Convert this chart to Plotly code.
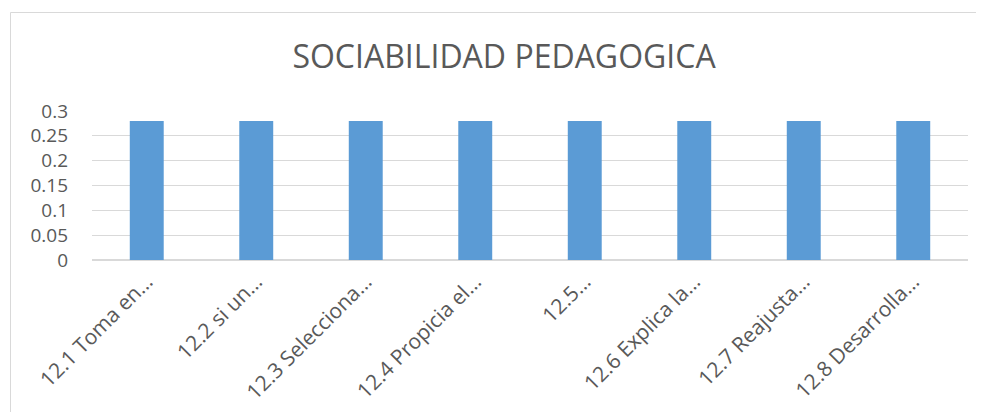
import plotly.graph_objects as go

categories = [
    "12.1 Toma en…",
    "12.2 si un…",
    "12.3 Selecciona…",
    "12.4 Propicia el…",
    "12.5…",
    "12.6 Explica la…",
    "12.7 Reajusta…",
    "12.8 Desarrolla…",
]
values = [0.28, 0.28, 0.28, 0.28, 0.28, 0.28, 0.28, 0.28]
y_ticks = [0, 0.05, 0.1, 0.15, 0.2, 0.25, 0.3]
y_tick_labels = ["0", "0.05", "0.1", "0.15", "0.2", "0.25", "0.3"]

FONT = "Open Sans"
TXT = "#595959"

fig = go.Figure(
    go.Bar(
        x=categories,
        y=values,
        marker=dict(color="#5b9bd5", line=dict(width=0)),
        width=0.31,
    )
)

# page body has an 8px margin; compensate so the figure lands at the target pixels
OFF = 8
W, H = 984 - OFF, 412 - OFF
L, R = 92 - OFF, 16
T = 111 - OFF
PH = 149
B = H - T - PH
pw = W - L - R

def px2x(px):
    return (px - OFF - L) / pw

def py2y(py):
    return (T + PH - (py - OFF)) / PH

fig.update_layout(
    width=W,
    height=H,
    margin=dict(l=L, r=R, t=T, b=B, pad=0, autoexpand=False),
    paper_bgcolor="white",
    plot_bgcolor="white",
    showlegend=False,
    font=dict(family=FONT, color=TXT, size=18),
    title=dict(
        text="SOCIABILIDAD PEDAGOGICA",
        x=(504 - OFF) / W,
        xanchor="center",
        xref="container",
        y=1 - (57 - OFF) / H,
        yref="container",
        yanchor="middle",
        font=dict(family=FONT, size=32, color=TXT),
    ),
    xaxis=dict(
        tickangle=-45,
        automargin=False,
        showgrid=False,
        showline=True,
        linecolor="#d9d9d9",
        linewidth=1,
        ticks="",
        tickfont=dict(size=21, color=TXT),
    ),
    yaxis=dict(
        range=[0, 0.3],
        automargin=False,
        tickvals=y_ticks,
        ticktext=y_tick_labels,
        showgrid=True,
        gridcolor="#d9d9d9",
        gridwidth=1,
        zeroline=True,
        zerolinecolor="#d9d9d9",
        showline=False,
        ticks="",
        ticklabelstandoff=23,
        tickfont=dict(size=19, color=TXT),
    ),
    shapes=[
        dict(
            type="rect",
            xref="paper",
            yref="paper",
            x0=px2x(10.5),
            x1=px2x(983.5),
            y0=py2y(430),
            y1=py2y(12.5),
            line=dict(color="#d9d9d9", width=1),
            fillcolor="rgba(0,0,0,0)",
            layer="below",
        )
    ],
)

fig.write_html("out.html")
